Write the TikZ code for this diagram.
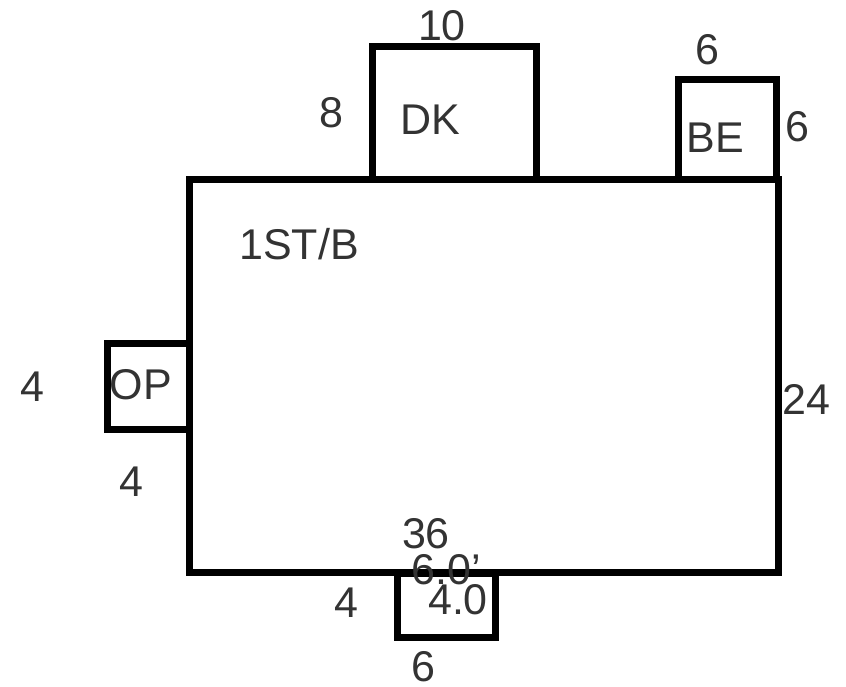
\documentclass[tikz,border=0pt]{standalone}
\usepackage{fontspec}
\setmainfont{Liberation Sans}
\tikzset
{
    room/.style = {draw=black, line width=7pt, inner sep=0pt, outer sep=0pt, anchor=north west},
    dimtext/.style = {font=\fontsize{43}{43}\selectfont, text=black!80, inner sep=0pt}
}
\begin{document}
\begin{tikzpicture}[x=1pt,y=-1pt]
\useasboundingbox (0,0) rectangle (846,687);
\path[fill=white] (0,0) rectangle (846,687);
% rooms
\node[room, minimum width=589pt, minimum height=392pt] (house) at (189,180) {};
\node[room, minimum width=164pt, minimum height=133pt] (deck) at (372,47) {};
\node[room, minimum width=98pt, minimum height=100pt] (bed) at (678,80) {};
\node[room, minimum width=82pt, minimum height=86pt] (porch) at (107,343) {};
\node[room, minimum width=98pt, minimum height=64pt] (entry) at (397,573) {};
% labels
\node[dimtext] (deckw) at (442,26) {10};
\node[dimtext] (deckh) at (331,113) {8};
\node[dimtext] (decklbl) at (430,120) {DK};
\node[dimtext] (bedw) at (707,50) {6};
\node[dimtext] (bedh) at (797,127) {6};
\node[dimtext] (bedlbl) at (715,138) {BE};
\node[dimtext] (houselbl) at (299,244) {1ST/B};
\node[dimtext] (porchh) at (32,387) {4};
\node[dimtext] (porchlbl) at (141,385) {OP};
\node[dimtext] (porchw) at (131,482) {4};
\node[dimtext] (househ) at (806,399) {24};
\node[dimtext] (housew) at (426,534) {36};
\node[dimtext] (entryt) at (446,570) {6.0'};
\node[dimtext] (entryd) at (458,600) {4.0};
\node[dimtext] (entryh) at (346,603) {4};
\node[dimtext] (entryw) at (423,667) {6};
\end{tikzpicture}
\end{document}
